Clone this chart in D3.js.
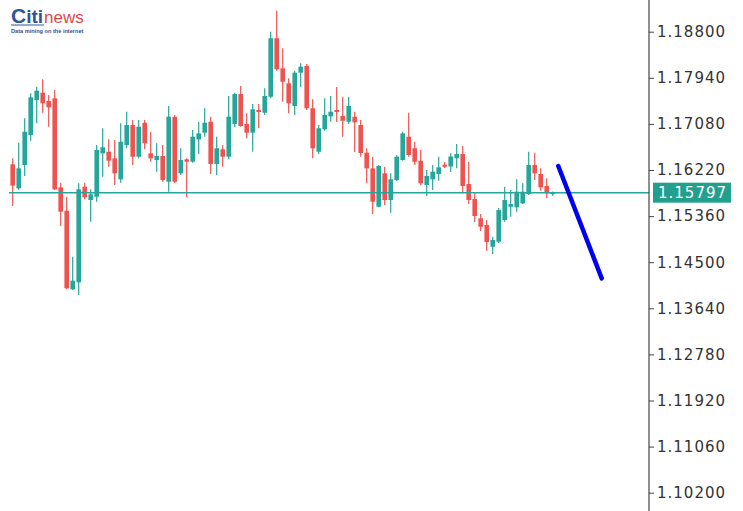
<!DOCTYPE html>
<html><head><meta charset="utf-8">
<script src="https://cdn.jsdelivr.net/npm/d3@7"></script>
<style>html,body{margin:0;padding:0;background:#fff;}svg{display:block;}</style>
</head><body>
<svg id="chart" width="743" height="511"></svg>
<script>
// OHLC candles
const opens = [1.16326,1.15878,1.16313,1.16873,1.17526,1.17662,1.17507,1.17557,1.15897,1.15460,
1.13994,1.14125,1.15908,1.15660,1.15722,1.16531,1.16561,1.16438,1.16046,1.16686,
1.17059,1.16468,1.17102,1.16531,1.16406,1.16481,1.16001,1.17214,1.16158,1.16419,
1.16375,1.16792,1.16916,1.17121,1.16332,1.16606,1.16468,1.17078,1.17637,1.17078,
1.16916,1.17339,1.17289,1.17587,1.18677,1.18117,1.17837,1.17414,1.18035,1.18160,
1.17371,1.16561,1.16979,1.17221,1.17339,1.17227,1.17121,1.17214,1.17059,1.16542,
1.16251,1.15535,1.16158,1.15660,1.16033,1.16406,1.16841,1.16625,1.16393,1.15940,
1.16046,1.16145,1.16319,1.16285,1.16438,1.16518,1.15958,1.15679,1.15319,1.15194,
1.14789,1.14882,1.15287,1.15535,1.15524,1.15598,1.15772,1.16313,1.16145,1.15921,1.15775];
const highs = [1.16438,1.16729,1.17184,1.17651,1.17774,1.17912,1.17619,1.17712,1.15983,1.15722,
1.14602,1.15972,1.15983,1.15860,1.16686,1.16998,1.16792,1.16779,1.17091,1.17307,
1.17152,1.17152,1.17152,1.16934,1.16718,1.16686,1.17414,1.17246,1.16625,1.16438,
1.16966,1.17121,1.17371,1.17214,1.16841,1.16686,1.17600,1.17662,1.17787,1.17277,
1.17451,1.17451,1.17744,1.18800,1.19191,1.18490,1.17930,1.18072,1.18210,1.18197,
1.17539,1.17059,1.17557,1.17600,1.17768,1.17587,1.17587,1.17307,1.17152,1.16625,
1.16468,1.16313,1.16281,1.16158,1.16500,1.16934,1.17289,1.16748,1.16593,1.16220,
1.16313,1.16468,1.16369,1.16531,1.16705,1.16667,1.16369,1.15785,1.15399,1.15287,
1.14975,1.15511,1.15908,1.15847,1.16046,1.15972,1.16561,1.16542,1.16251,1.16065,1.15820];
const lows = [1.15548,1.15847,1.16108,1.16766,1.17091,1.17289,1.17027,1.15847,1.15175,1.13994,
1.13981,1.13888,1.15673,1.15255,1.15628,1.16095,1.16281,1.15940,1.15983,1.16625,
1.16313,1.16438,1.16606,1.16375,1.16188,1.16001,1.15815,1.15972,1.16126,1.15710,
1.16356,1.16518,1.16841,1.16145,1.16126,1.16281,1.16419,1.17016,1.17027,1.16811,
1.16561,1.16998,1.17246,1.17557,1.18072,1.17494,1.17277,1.17246,1.17762,1.17339,
1.16438,1.16518,1.16953,1.17121,1.17115,1.16841,1.17078,1.16555,1.16468,1.15972,
1.15399,1.15524,1.15567,1.15423,1.16014,1.16393,1.16468,1.16313,1.15940,1.15735,
1.15847,1.16020,1.16257,1.16182,1.16251,1.15785,1.15585,1.15250,1.15082,1.14714,
1.14653,1.14858,1.15255,1.15349,1.15442,1.15585,1.15753,1.16033,1.15834,1.15692,1.15740];
const closes = [1.15927,1.16251,1.16934,1.17576,1.17699,1.17464,1.17389,1.15860,1.15442,1.14013,
1.14155,1.15860,1.15710,1.15766,1.16593,1.16643,1.16393,1.16158,1.16748,1.17059,
1.16468,1.17027,1.16718,1.16438,1.16481,1.16033,1.17214,1.16001,1.16406,1.16375,
1.16841,1.16904,1.17102,1.16332,1.16625,1.16468,1.17214,1.17637,1.17041,1.16916,
1.17352,1.17302,1.17600,1.18677,1.18098,1.17867,1.17464,1.18035,1.18147,1.17371,
1.16625,1.16998,1.17246,1.17307,1.17302,1.17139,1.17414,1.17110,1.16537,1.16251,
1.15628,1.16294,1.15660,1.16046,1.16468,1.16904,1.16500,1.16375,1.15972,1.16108,
1.16188,1.16270,1.16281,1.16472,1.16518,1.15921,1.15660,1.15362,1.15162,1.14877,
1.14914,1.15473,1.15660,1.15585,1.15815,1.15815,1.16313,1.16158,1.15897,1.15785,1.15797];

const priceTicks = [1.18800,1.17940,1.17080,1.16220,1.15360,1.14500,1.13640,1.12780,1.11920,1.11060,1.10200];
const lastPrice = 1.15797;
// projected trend line (bar index, price)
const trendIdx = [90.93, 98.17];
const trendPrice = [1.16294, 1.14199];

const candles = opens.map((o,i)=>({i, o, h:highs[i], l:lows[i], c:closes[i]}));

const svg = d3.select("#chart");
const x = d3.scaleLinear().domain([0,106]).range([12.7,648.7]);
const y = d3.scaleLinear().domain([1.10200,1.18800]).range([492.7,31.7]);
const axisX = 649;
const UP = "#26a69a", DOWN = "#ef5350";

// candles
const g = svg.append("g");
const cg = g.selectAll("g.c").data(candles).enter().append("g")
  .attr("fill", d=> d.c>=d.o?UP:DOWN).attr("stroke", d=> d.c>=d.o?UP:DOWN);
cg.append("line").attr("x1",d=>x(d.i)).attr("x2",d=>x(d.i))
  .attr("y1",d=>y(d.h)).attr("y2",d=>y(d.l)).attr("stroke-width",1.2);
cg.append("rect").attr("x",d=>x(d.i)-2.3).attr("width",4.6)
  .attr("y",d=>y(Math.max(d.o,d.c)))
  .attr("height",d=>Math.max(1.5, y(Math.min(d.o,d.c))-y(Math.max(d.o,d.c))))
  .attr("stroke","none");

// last price line
svg.append("line").attr("x1",9).attr("x2",axisX).attr("y1",y(lastPrice)).attr("y2",y(lastPrice))
  .attr("stroke",UP).attr("stroke-width",1.5);

// trend line
svg.append("line").attr("x1",x(trendIdx[0])).attr("y1",y(trendPrice[0]))
  .attr("x2",x(trendIdx[1])).attr("y2",y(trendPrice[1]))
  .attr("stroke","#0000f0").attr("stroke-width",4.5).attr("stroke-linecap","round");

// axis
const axis = d3.axisRight(y).tickValues(priceTicks).tickFormat(d3.format(".5f")).tickSize(5).tickPadding(3);
const ag = svg.append("g").attr("transform",`translate(${axisX},0)`).call(axis);
ag.select(".domain").attr("d","M0,0V511").attr("stroke","#444").attr("stroke-width",1.2);
ag.selectAll(".tick line").attr("stroke","#444");
ag.selectAll(".tick text").attr("fill","#333").style("font-family","DejaVu Sans, sans-serif")
  .style("font-size","15px").style("letter-spacing","1px");

// price label
const py = y(lastPrice);
svg.append("rect").attr("x",653).attr("y",py-10).attr("width",78).attr("height",20).attr("fill","#21a08e");
svg.append("text").attr("x",658).attr("y",py).attr("dy","0.35em").text(d3.format(".5f")(lastPrice))
  .attr("fill","#fff").style("font-family","DejaVu Sans, sans-serif").style("font-size","15px").style("letter-spacing","1px");

// logo
const logo = svg.append("g");
const t1 = logo.append("text").attr("x",11).attr("y",22.5).style("font-family","Liberation Sans, Arial, sans-serif")
  .style("font-weight","bold").attr("fill","#2f5597");
t1.append("tspan").style("font-size","21px").text("C");
t1.append("tspan").style("font-size","19px").text("iti");
logo.append("text").attr("x",44).attr("y",22.5).style("font-family","Liberation Sans, Arial, sans-serif")
  .style("font-size","17px").attr("fill","#e04848").text("news");
logo.append("line").attr("x1",11).attr("x2",44).attr("y1",25).attr("y2",25).attr("stroke","#2f5597").attr("stroke-width",1);
logo.append("text").attr("x",11).attr("y",32.5).style("font-family","Liberation Sans, Arial, sans-serif")
  .style("font-size","5.6px").style("font-weight","bold").attr("fill","#2f5597").text("Data mining on the internet");
</script>
</body></html>
